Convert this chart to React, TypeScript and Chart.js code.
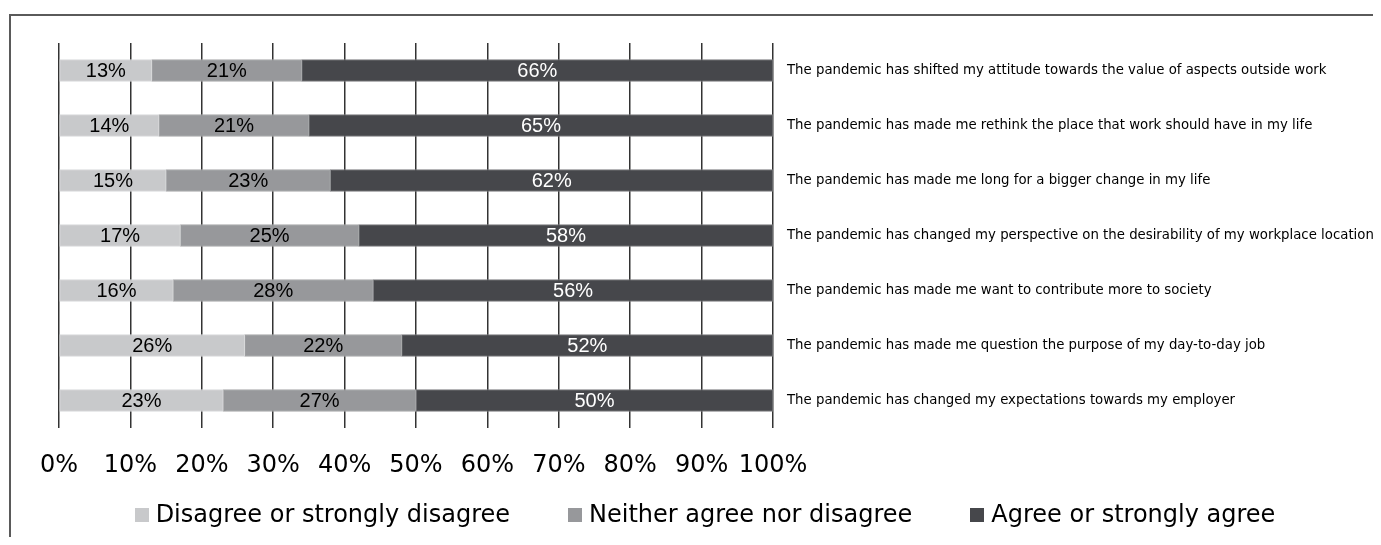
import React, { useEffect, useRef } from "react";
import { Chart, registerables } from "chart.js";

Chart.register(...registerables);

const categories = [
  "The pandemic has shifted my attitude towards the value of aspects outside work",
  "The pandemic has made me rethink the place that work should have in my life",
  "The pandemic has made me long for a bigger change in my life",
  "The pandemic has changed my perspective on the desirability of my workplace location",
  "The pandemic has made me want to contribute more to society",
  "The pandemic has made me question the purpose of my day-to-day job",
  "The pandemic has changed my expectations towards my employer",
];

const seriesNames = [
  "Disagree or strongly disagree",
  "Neither agree nor disagree",
  "Agree or strongly agree",
];

const disagreeValues = [13, 14, 15, 17, 16, 26, 23];
const neitherValues = [21, 21, 23, 25, 28, 22, 27];
const agreeValues = [66, 65, 62, 58, 56, 52, 50];

const xTickValues = [0, 10, 20, 30, 40, 50, 60, 70, 80, 90, 100];

const COLORS = ["#c8c9cb", "#97989b", "#46474b"];
const BORDERS = ["#d9dadb", "#a8a9ab", "#7a7b7e"];
const LABEL_COLORS = ["#000000", "#000000", "#ffffff"];

const W = 1365;
const H = 529;
const LEGEND_CENTER_X = 697;
const LEGEND_Y = 507;

const dataLabelPlugin = {
  id: "dataLabels",
  afterDatasetsDraw(chart: any) {
    const ctx = chart.ctx;
    ctx.save();
    ctx.font = '20px "Liberation Sans", Arial, sans-serif';
    ctx.textAlign = "center";
    ctx.textBaseline = "middle";
    chart.data.datasets.forEach((ds: any, i: number) => {
      const meta = chart.getDatasetMeta(i);
      meta.data.forEach((bar: any, j: number) => {
        const p = bar.getProps(["x", "y", "base"], true);
        const cx = (p.x + p.base) / 2;
        ctx.fillStyle = LABEL_COLORS[i];
        ctx.fillText(ds.data[j] + "%", cx, p.y + 1);
      });
    });
    ctx.restore();
  },
};

const legendPlugin = {
  id: "bottomLegend",
  afterDraw(chart: any) {
    const ctx = chart.ctx;
    ctx.save();
    ctx.font = '24px "DejaVu Sans", Verdana, sans-serif';
    ctx.textBaseline = "middle";
    ctx.textAlign = "left";
    const box = 14;
    const gapText = 7;
    const gapItem = 58;
    const items = chart.data.datasets.map((ds: any) => ({
      text: ds.label,
      color: ds.backgroundColor,
      w: ctx.measureText(ds.label).width,
    }));
    const total =
      items.reduce((s: number, it: any) => s + box + gapText + it.w, 0) +
      gapItem * (items.length - 1);
    let x = LEGEND_CENTER_X - total / 2;
    items.forEach((it: any) => {
      ctx.fillStyle = it.color;
      ctx.fillRect(Math.round(x), LEGEND_Y - box / 2, box, box);
      ctx.fillStyle = "#000000";
      ctx.fillText(it.text, x + box + gapText, LEGEND_Y + 1);
      x += box + gapText + it.w + gapItem;
    });
    ctx.restore();
  },
};

export default function App() {
  const canvasRef = useRef<HTMLCanvasElement | null>(null);

  useEffect(() => {
    if (!canvasRef.current) return;
    const values = [disagreeValues, neitherValues, agreeValues];
    const chart = new Chart(canvasRef.current, {
      type: "bar",
      data: {
        labels: categories,
        datasets: seriesNames.map((name, i) => ({
          label: name,
          data: values[i],
          backgroundColor: COLORS[i],
          borderColor: BORDERS[i],
          borderWidth: 1,
          borderSkipped: false,
          barThickness: 22,
        })),
      },
      options: {
        indexAxis: "y",
        responsive: false,
        animation: false,
        maintainAspectRatio: false,
        layout: { padding: { left: 51, top: 35, right: 0, bottom: 49 } },
        plugins: {
          legend: { display: false },
          tooltip: { enabled: false },
          title: { display: false },
        },
        scales: {
          x: {
            stacked: true,
            min: 0,
            max: 100,
            afterBuildTicks: (scale: any) => {
              scale.ticks = xTickValues.map((v) => ({ value: v }));
            },
            afterFit: (scale: any) => {
              scale.height = 60;
            },
            grid: {
              display: true,
              color: "#333333",
              lineWidth: 1.5,
              drawTicks: false,
            },
            border: { display: false },
            ticks: {
              autoSkip: false,
              maxRotation: 0,
              padding: 23,
              color: "#000000",
              font: { family: '"DejaVu Sans", Verdana, sans-serif', size: 24 },
              callback: (v: any) => v + "%",
            },
          },
          y: {
            stacked: true,
            position: "right",
            afterFit: (scale: any) => {
              scale.width = 600;
            },
            grid: { display: false, drawTicks: false },
            border: { display: false },
            ticks: {
              padding: 14,
              color: "#000000",
              font: { family: '"DejaVu Sans", Verdana, sans-serif', size: 13.3 },
            },
          },
        },
      },
      plugins: [dataLabelPlugin, legendPlugin],
    } as any);
    return () => chart.destroy();
  }, []);

  return (
    <div style={{ position: "relative", width: W, height: H, overflow: "hidden" }}>
      <div
        style={{
          position: "absolute",
          left: 1,
          top: 6,
          width: 3000,
          height: 3000,
          borderTop: "2px solid #5a5a5a",
          borderLeft: "2px solid #5a5a5a",
          boxSizing: "border-box",
        }}
      />
      <canvas
        ref={canvasRef}
        width={W}
        height={H}
        style={{ position: "absolute", left: 0, top: 0, width: W, height: H }}
      />
    </div>
  );
}
